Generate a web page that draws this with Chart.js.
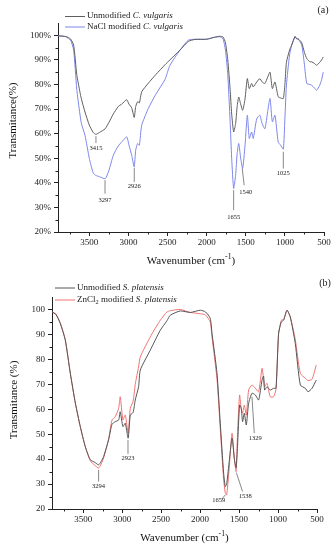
<html>
<head>
<title>FTIR spectra</title>
<script src="https://cdn.jsdelivr.net/npm/chart.js@4.4.1/dist/chart.umd.min.js"></script>
<style>
  body { margin: 0; background: #fff; }
  .panel { position: absolute; left: 0; }
</style>
</head>
<body>
<div class="panel" style="top:0"><canvas id="chartA" width="333" height="270"></canvas></div>
<div class="panel" style="top:270px"><canvas id="chartB" width="333" height="280"></canvas></div>
<script>
// ---- data, panel (a) ----
var aWaves = [3900, 3800, 3740, 3700, 3660, 3620, 3600, 3555, 3500, 3450, 3415, 3370, 3297, 3250, 3193, 3130,
  3086, 3022, 2993, 2958, 2926, 2907, 2882, 2860, 2830, 2746, 2650, 2533, 2469, 2341, 2235, 2150, 2000, 1900,
  1830, 1790, 1760, 1730, 1700, 1680, 1655, 1630, 1610, 1590, 1565, 1540, 1510, 1480, 1455, 1425, 1405, 1360,
  1320, 1290, 1255, 1220, 1190, 1160, 1127, 1085, 1054, 1020, 1000, 980, 940, 913, 870, 850, 830, 785, 750,
  720, 680, 658, 620, 595, 555, 530, 510];
var aUnmodified = [99.8, 99.5, 98.5, 96, 84, 77, 74, 68.8, 63.5, 60.5, 59.7, 60.5, 62, 64.5, 68, 71,
  72, 73.8, 72, 70.5, 66.6, 71, 73, 72.5, 77, 80.5, 84, 88, 90, 94, 97.5, 98.3, 98.4, 99.2,
  99.6, 99.3, 97, 90, 78, 68, 60.7, 64, 71, 74.9, 72, 69.5, 74, 82.4, 78.3, 80.4, 79, 81,
  82.4, 81, 80.4, 83, 85, 78.3, 81, 75, 74.5, 74.3, 80, 89, 94, 96, 99.5, 98.6, 98.6, 97, 93,
  90.5, 89.2, 89.2, 88.5, 87.8, 89, 90, 91.2];
var aNaCl = [99.8, 99.4, 98, 94, 78, 68, 64, 59.3, 50, 44, 43, 42.5, 41.7, 45, 51.2, 55,
  56.6, 58.7, 55.3, 51.2, 46.5, 53.3, 56, 55.3, 63.4, 70.2, 76, 82, 87.8, 93.9, 98, 98.4, 98.4, 99.2,
  99.4, 98.5, 94, 84, 65, 50, 37.7, 43, 52, 56, 50, 45.8, 55, 67.5, 58, 60.7, 58, 66,
  67.5, 64, 62, 69, 74.3, 64.8, 67.5, 56.6, 55.3, 53.7, 66, 79.7, 92, 96, 99.5, 98.5, 98.5, 96, 88,
  80.4, 80, 79.7, 78.5, 77.6, 79.7, 82, 85];

// ---- data, panel (b) ----
var bWaves = [3900, 3850, 3794, 3730, 3665, 3600, 3537, 3473, 3408, 3350, 3302, 3270, 3238, 3174, 3130, 3088,
  3045, 3025, 2990, 2960, 2923, 2895, 2861, 2845, 2832, 2789, 2767, 2639, 2510, 2425, 2382, 2254, 2125, 1997,
  1930, 1870, 1847, 1783, 1741, 1698, 1677, 1659, 1630, 1590, 1560, 1538, 1520, 1493, 1472, 1455, 1433, 1407,
  1377, 1334, 1291, 1249, 1205, 1185, 1172, 1142, 1100, 1057, 1026, 993, 958, 928, 885, 843, 779, 714, 650,
  615, 564, 509];
var bUnmodified = [99, 98, 94.4, 87.7, 74.4, 62.4, 53, 45, 39.7, 38.7, 37.7, 39, 41, 47.7, 54, 55,
  55.7, 59, 53, 54.4, 48.4, 57.7, 58.6, 61, 63.7, 69, 75.7, 83.7, 91.7, 95.5, 97.7, 99.4, 98.8, 99.7,
  99, 96.5, 90.4, 74.4, 54.4, 34.4, 29, 30, 38, 48.4, 40, 36.5, 45, 61.7, 60.4, 55, 58.4, 53.7,
  62.4, 66.4, 65.7, 63.7, 71.7, 73.3, 67.7, 69, 67.7, 68.4, 68.4, 90.4, 95, 95.7, 99.7, 97, 86.4, 69.7, 68.4,
  67, 68.4, 71.7];
var bZnCl2 = [99, 98.2, 94.6, 88, 74.4, 62.4, 53, 45, 39.3, 37.5, 36.4, 38, 40.5, 48, 55.7, 57,
  60.4, 65, 55.7, 57.7, 50.4, 60.4, 63, 66.4, 70, 77, 81, 89, 95.7, 99, 99.5, 100, 98.8, 98.3,
  97.8, 95, 89, 72, 52, 32, 26.5, 25.7, 35, 50.4, 40, 35, 50, 65.7, 60, 58.4, 61.7, 57.6,
  67.7, 69.7, 68.4, 67, 76.4, 72, 69, 70.4, 65, 65, 68, 90, 95.7, 96, 99.7, 97, 88, 74.4, 72.4,
  71.5, 72, 77.7];

var xTicks = [500, 1000, 1500, 2000, 2500, 3000, 3500];
var yTicks = [20, 30, 40, 50, 60, 70, 80, 90, 100];

var SERIF = "'Liberation Serif', 'DejaVu Serif', serif";

function points(xs, ys) {
  return xs.map(function (x, i) { return { x: x, y: ys[i] }; });
}

// text runs: [text, style] style: '' | 'i' | 'sub' | 'sup'
function drawRuns(ctx, runs, x, y, size) {
  runs.forEach(function (r) {
    var s = size, dy = 0;
    if (r[1] === 'sub') { s = size * 0.7; dy = size * 0.3; }
    if (r[1] === 'sup') { s = size * 0.7; dy = -size * 0.4; }
    ctx.font = (r[1] === 'i' ? 'italic ' : '') + s + 'px ' + SERIF;
    ctx.fillText(r[0], x, y + dy);
    x += ctx.measureText(r[0]).width;
  });
}

var decoPlugin = {
  id: 'deco',
  afterDraw: function (chart, args, o) {
    var ctx = chart.ctx, xs = chart.scales.x, ys = chart.scales.y, ca = chart.chartArea;
    ctx.save();
    // minor ticks
    ctx.strokeStyle = '#222';
    ctx.lineWidth = 1;
    ctx.beginPath();
    o.minorX.forEach(function (v) {
      var px = Math.round(xs.getPixelForValue(v)) + 0.5;
      ctx.moveTo(px, ca.bottom); ctx.lineTo(px, ca.bottom + 2.5);
    });
    o.minorY.forEach(function (v) {
      var py = Math.round(ys.getPixelForValue(v)) + 0.5;
      ctx.moveTo(ca.left, py); ctx.lineTo(ca.left - 2.5, py);
    });
    ctx.stroke();

    // peak labels
    ctx.strokeStyle = '#555';
    ctx.lineWidth = 0.7;
    ctx.fillStyle = '#222';
    ctx.textAlign = 'center';
    ctx.textBaseline = 'middle';
    ctx.font = '6.5px ' + SERIF;
    o.peaks.forEach(function (p) {
      ctx.beginPath();
      ctx.moveTo(xs.getPixelForValue(p.from[0]), ys.getPixelForValue(p.from[1]));
      ctx.lineTo(xs.getPixelForValue(p.to[0]), ys.getPixelForValue(p.to[1]));
      ctx.stroke();
      ctx.fillText(p.text, xs.getPixelForValue(p.at[0]), ys.getPixelForValue(p.at[1]));
    });

    // legend
    ctx.textAlign = 'left';
    chart.data.datasets.forEach(function (ds, i) {
      var ly = o.legendY + i * o.legendGap;
      ctx.strokeStyle = ds.borderColor;
      ctx.lineWidth = 1;
      ctx.beginPath();
      ctx.moveTo(o.legendX, ly + 0.5); ctx.lineTo(o.legendX + 20, ly + 0.5);
      ctx.stroke();
      ctx.fillStyle = '#222';
      drawRuns(ctx, o.legendRuns[i], o.legendX + 22, ly, 9);
    });

    // panel label
    ctx.textAlign = 'center';
    ctx.font = '10px ' + SERIF;
    ctx.fillText(o.panel, o.panelX, o.panelY);

    // axis titles
    ctx.fillStyle = '#111';
    var t1 = 'Wavenumber (cm', t2 = '-1', t3 = ')';
    ctx.font = '11px ' + SERIF;
    var w1 = ctx.measureText(t1).width, w3 = ctx.measureText(t3).width;
    ctx.font = '7.7px ' + SERIF;
    var w2 = ctx.measureText(t2).width;
    var tx = (ca.left + ca.right) / 2 - (w1 + w2 + w3) / 2;
    ctx.textAlign = 'left';
    drawRuns(ctx, [[t1, ''], [t2, 'sup'], [t3, '']], tx, o.xTitleY, 11);

    ctx.translate(o.yTitleX, (ca.top + ca.bottom) / 2 + o.yTitleShift);
    ctx.rotate(-Math.PI / 2);
    ctx.textAlign = 'center';
    ctx.font = '11px ' + SERIF;
    ctx.fillText(o.yTitle, 0, 0);
    ctx.restore();
  }
};

function makeChart(id, o) {
  return new Chart(document.getElementById(id), {
    type: 'line',
    data: {
      datasets: o.series.map(function (s) {
        return {
          data: points(s.x, s.y),
          borderColor: s.color,
          borderWidth: 1,
          pointRadius: 0,
          tension: 0.2,
          fill: false
        };
      })
    },
    options: {
      responsive: false,
      devicePixelRatio: 1,
      animation: false,
      parsing: false,
      layout: { padding: { left: 0, right: o.padRight, top: o.padTop, bottom: 0 } },
      plugins: { legend: { display: false }, tooltip: { enabled: false }, deco: o.deco },
      scales: {
        x: {
          type: 'linear',
          reverse: true,
          min: 500,
          max: 3900,
          afterBuildTicks: function (s) { s.ticks = xTicks.map(function (v) { return { value: v }; }); },
          afterFit: function (s) { s.height = o.xHeight; },
          border: { display: true, color: '#222', width: 1 },
          grid: { drawOnChartArea: false, drawTicks: true, tickLength: 4, color: '#222' },
          ticks: {
            font: { family: SERIF, size: 9 }, color: '#222', padding: 1, maxRotation: 0,
            callback: function (v) { return String(v); }
          }
        },
        y: {
          min: 20,
          max: 105,
          afterBuildTicks: function (s) { s.ticks = yTicks.map(function (v) { return { value: v }; }); },
          afterFit: function (s) { s.width = o.yWidth; },
          border: { display: true, color: '#222', width: 1 },
          grid: { drawOnChartArea: false, drawTicks: true, tickLength: 4, color: '#222' },
          ticks: {
            font: { family: SERIF, size: 9 }, color: '#222', padding: 3,
            callback: function (v) { return o.percent ? v + '%' : String(v); }
          }
        }
      }
    },
    plugins: [decoPlugin]
  });
}

var minorX = [750, 1250, 1750, 2250, 2750, 3250, 3750];
var minorY = [25, 35, 45, 55, 65, 75, 85, 95];

makeChart('chartA', {
  percent: true,
  padRight: 9, padTop: 23, xHeight: 38, yWidth: 58,
  series: [
    { x: aWaves, y: aUnmodified, color: '#5e5e5e' },
    { x: aWaves, y: aNaCl, color: '#7d86ec' }
  ],
  deco: {
    minorX: minorX, minorY: minorY,
    legendX: 65, legendY: 16, legendGap: 10.5,
    legendRuns: [
      [['Unmodified ', ''], ['C. vulgaris', 'i']],
      [['NaCl modified ', ''], ['C. vulgaris', 'i']]
    ],
    panel: '(a)', panelX: 323, panelY: 10,
    xTitleY: 261, yTitleX: 13, yTitleShift: -7, yTitle: 'Transmitance(%)',
    peaks: [
      { text: '3415', from: [3415, 59], to: [3415, 56.2], at: [3415, 54.2] },
      { text: '3297', from: [3299, 41.1], to: [3299, 35.6], at: [3299, 32.9] },
      { text: '2926', from: [2925, 46.1], to: [2925, 40.4], at: [2925, 38.6] },
      { text: '1655', from: [1655, 37], to: [1655, 28.9], at: [1655, 26.1] },
      { text: '1540', from: [1545, 45.8], to: [1520, 39], at: [1500, 36.3] },
      { text: '1025', from: [1020, 52.6], to: [1020, 45.8], at: [1020, 43.8] }
    ]
  }
});

makeChart('chartB', {
  percent: false,
  padRight: 16, padTop: 27, xHeight: 41, yWidth: 52,
  series: [
    { x: bWaves, y: bUnmodified, color: '#555555' },
    { x: bWaves, y: bZnCl2, color: '#f07272' }
  ],
  deco: {
    minorX: minorX, minorY: minorY,
    legendX: 55, legendY: 17.5, legendGap: 12,
    legendRuns: [
      [['Unmodified ', ''], ['S. platensis', 'i']],
      [['ZnCl', ''], ['2', 'sub'], [' modified ', ''], ['S. platensis', 'i']]
    ],
    panel: '(b)', panelX: 325, panelY: 13,
    xTitleY: 268, yTitleX: 14, yTitleShift: -3, yTitle: 'Transmitance (%)',
    peaks: [
      { text: '3294', from: [3302, 35.7], to: [3302, 31], at: [3302, 29] },
      { text: '2923', from: [2925, 47.7], to: [2925, 42.1], at: [2925, 40.4] },
      { text: '1659', from: [1676, 25.7], to: [1719, 24], at: [1762, 23.4] },
      { text: '1538', from: [1535, 34.6], to: [1455, 27], at: [1420, 25] },
      { text: '1329', from: [1334, 65], to: [1305, 50.4], at: [1292, 48.4] }
    ]
  }
});
</script>
</body>
</html>
